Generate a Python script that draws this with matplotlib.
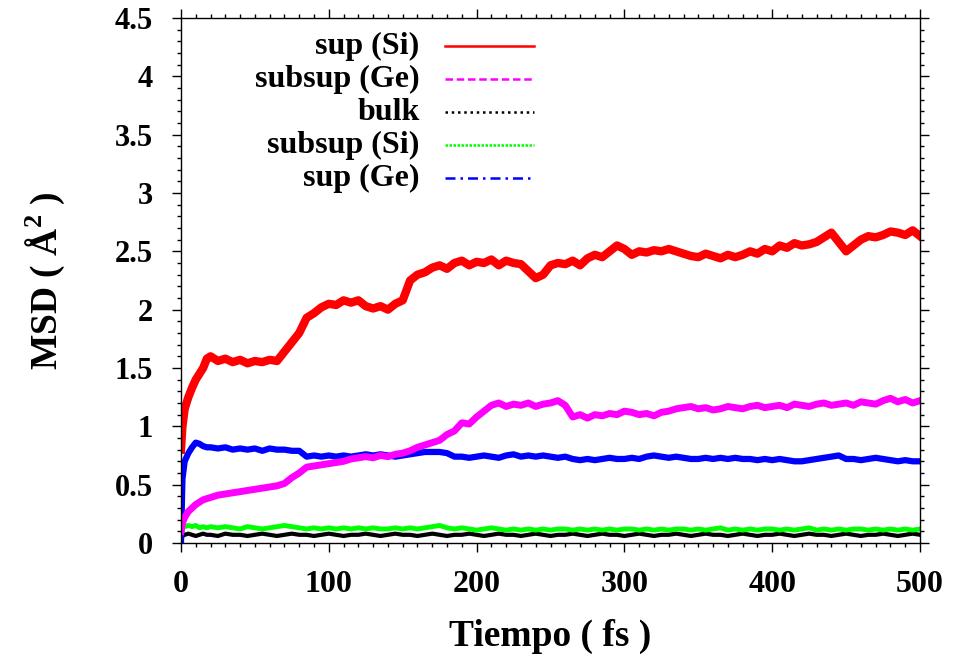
import numpy as np
import matplotlib
matplotlib.use("Agg")
import matplotlib.pyplot as plt
from matplotlib.ticker import MultipleLocator

plt.rcParams['font.family'] = ['Liberation Serif', 'DejaVu Serif']
plt.rcParams['font.weight'] = 'bold'
plt.rcParams['mathtext.fontset'] = 'custom'
plt.rcParams['mathtext.rm'] = 'Liberation Serif:bold'
plt.rcParams['mathtext.bf'] = 'Liberation Serif:bold'

# time axis (fs): finer sampling during the initial rise
t_fs = np.concatenate([[0, 1, 2.5, 5, 7.5, 10, 12.5, 15, 17.5, 20],
                       np.arange(25, 501, 5)])

sup_si = [0.80, 1.00, 1.15, 1.25, 1.33, 1.40, 1.45, 1.50, 1.58, 1.60,
          1.56, 1.58, 1.55, 1.57, 1.54, 1.56, 1.55, 1.57, 1.56, 1.64,
          1.72, 1.80, 1.93, 1.97, 2.02, 2.05, 2.04, 2.08, 2.06, 2.08,
          2.03, 2.01, 2.03, 2.00, 2.05, 2.08, 2.25, 2.30, 2.32, 2.36,
          2.38, 2.35, 2.40, 2.42, 2.38, 2.41, 2.40, 2.43, 2.38, 2.42,
          2.40, 2.39, 2.33, 2.27, 2.30, 2.38, 2.40, 2.39, 2.42, 2.38,
          2.44, 2.47, 2.45, 2.50, 2.55, 2.52, 2.47, 2.50, 2.49, 2.51,
          2.50, 2.52, 2.50, 2.48, 2.46, 2.45, 2.48, 2.46, 2.44, 2.47,
          2.45, 2.47, 2.50, 2.48, 2.52, 2.50, 2.55, 2.53, 2.57, 2.55,
          2.56, 2.58, 2.62, 2.66, 2.58, 2.50, 2.55, 2.60, 2.63, 2.62,
          2.64, 2.67, 2.66, 2.64, 2.68, 2.63]

subsup_ge = [0.10, 0.17, 0.22, 0.27, 0.30, 0.33, 0.35, 0.37, 0.38, 0.39,
             0.41, 0.42, 0.43, 0.44, 0.45, 0.46, 0.47, 0.48, 0.49, 0.51,
             0.56, 0.60, 0.65, 0.66, 0.67, 0.68, 0.69, 0.70, 0.72, 0.73,
             0.74, 0.73, 0.75, 0.74, 0.76, 0.77, 0.79, 0.82, 0.84, 0.86,
             0.88, 0.93, 0.96, 1.03, 1.02, 1.08, 1.13, 1.18, 1.20, 1.17,
             1.19, 1.18, 1.20, 1.17, 1.19, 1.20, 1.22, 1.18, 1.08, 1.10,
             1.07, 1.10, 1.09, 1.11, 1.10, 1.13, 1.12, 1.10, 1.11, 1.09,
             1.12, 1.13, 1.15, 1.16, 1.17, 1.15, 1.16, 1.14, 1.15, 1.17,
             1.16, 1.15, 1.17, 1.18, 1.16, 1.17, 1.18, 1.16, 1.19, 1.18,
             1.17, 1.19, 1.20, 1.18, 1.19, 1.20, 1.18, 1.21, 1.20, 1.19,
             1.22, 1.24, 1.21, 1.23, 1.20, 1.22]

bulk = [0.00, 0.06, 0.07, 0.08, 0.07, 0.06, 0.07, 0.08, 0.07, 0.07,
        0.06, 0.08, 0.07, 0.07, 0.06, 0.07, 0.08, 0.07, 0.06, 0.07,
        0.08, 0.07, 0.07, 0.06, 0.07, 0.08, 0.07, 0.06, 0.07, 0.07,
        0.08, 0.07, 0.06, 0.07, 0.08, 0.07, 0.07, 0.06, 0.07, 0.08,
        0.07, 0.06, 0.07, 0.07, 0.08, 0.07, 0.06, 0.07, 0.08, 0.07,
        0.07, 0.06, 0.07, 0.08, 0.07, 0.06, 0.07, 0.07, 0.08, 0.07,
        0.06, 0.07, 0.08, 0.07, 0.07, 0.06, 0.07, 0.08, 0.07, 0.06,
        0.07, 0.07, 0.08, 0.07, 0.06, 0.07, 0.08, 0.07, 0.07, 0.06,
        0.07, 0.08, 0.07, 0.06, 0.07, 0.07, 0.08, 0.07, 0.06, 0.07,
        0.08, 0.07, 0.07, 0.06, 0.07, 0.08, 0.07, 0.06, 0.07, 0.07,
        0.08, 0.07, 0.06, 0.07, 0.08, 0.07]

subsup_si = [0.05, 0.13, 0.14, 0.15, 0.14, 0.15, 0.13, 0.14, 0.13, 0.14,
             0.13, 0.14, 0.13, 0.12, 0.14, 0.13, 0.12, 0.13, 0.14, 0.15,
             0.14, 0.13, 0.12, 0.13, 0.12, 0.13, 0.12, 0.13, 0.12, 0.13,
             0.12, 0.13, 0.12, 0.12, 0.13, 0.12, 0.13, 0.12, 0.13, 0.14,
             0.15, 0.13, 0.12, 0.13, 0.12, 0.11, 0.12, 0.13, 0.12, 0.11,
             0.12, 0.11, 0.12, 0.11, 0.12, 0.11, 0.12, 0.12, 0.11, 0.12,
             0.11, 0.12, 0.11, 0.12, 0.11, 0.12, 0.12, 0.11, 0.12, 0.11,
             0.12, 0.11, 0.12, 0.12, 0.11, 0.12, 0.11, 0.12, 0.13, 0.11,
             0.12, 0.11, 0.12, 0.11, 0.12, 0.12, 0.11, 0.12, 0.11, 0.12,
             0.13, 0.11, 0.12, 0.11, 0.12, 0.11, 0.12, 0.12, 0.11, 0.12,
             0.11, 0.12, 0.11, 0.12, 0.11, 0.12]

sup_ge = [0.00, 0.55, 0.70, 0.77, 0.82, 0.86, 0.85, 0.83, 0.82, 0.82,
          0.81, 0.82, 0.80, 0.81, 0.80, 0.81, 0.79, 0.81, 0.80, 0.80,
          0.79, 0.79, 0.74, 0.75, 0.74, 0.75, 0.74, 0.75, 0.74, 0.75,
          0.76, 0.75, 0.76, 0.75, 0.74, 0.75, 0.76, 0.77, 0.78, 0.78,
          0.78, 0.77, 0.74, 0.74, 0.73, 0.74, 0.75, 0.74, 0.73, 0.75,
          0.76, 0.74, 0.75, 0.74, 0.75, 0.74, 0.73, 0.74, 0.72, 0.71,
          0.72, 0.71, 0.72, 0.73, 0.72, 0.72, 0.73, 0.72, 0.74, 0.75,
          0.74, 0.73, 0.74, 0.73, 0.72, 0.72, 0.73, 0.72, 0.73, 0.72,
          0.73, 0.72, 0.72, 0.71, 0.72, 0.71, 0.72, 0.71, 0.70, 0.70,
          0.71, 0.72, 0.73, 0.74, 0.75, 0.72, 0.72, 0.71, 0.72, 0.73,
          0.72, 0.71, 0.70, 0.71, 0.70, 0.70]

labels = ['sup (Si)', 'subsup (Ge)', 'bulk', 'subsup (Si)', 'sup (Ge)']
series = [sup_si, subsup_ge, bulk, subsup_si, sup_ge]
colors = ['#ff0000', '#ff00ff', '#000000', '#00ff00', '#0000ff']
widths = [6.0, 5.0, 3.0, 3.5, 4.5]
key_styles = ['-', (0, (3, 1.5)), (0, (1, 1.5)), (0, (1, 0.6)), (0, (4, 2, 1, 2))]
draw_order = [2, 3, 4, 1, 0]

fig = plt.figure(figsize=(9.54, 6.62), dpi=100)
ax = fig.add_axes([0.1897, 0.1798, 0.7747, 0.7930])

for i in draw_order:
    ax.plot(t_fs, series[i], color=colors[i], lw=widths[i],
            solid_joinstyle='round', zorder=2)

ax.set_xlim(0, 500)
ax.set_ylim(0, 4.5)
ax.xaxis.set_major_locator(MultipleLocator(100))
ax.xaxis.set_minor_locator(MultipleLocator(10))
ax.yaxis.set_major_locator(MultipleLocator(0.5))
ax.yaxis.set_minor_locator(MultipleLocator(0.1))
ax.yaxis.set_major_formatter(plt.FuncFormatter(lambda v, p: f"{v:g}"))

ax.tick_params(which='both', direction='out', top=True, right=True,
               width=1.0, colors='black')
ax.tick_params(which='major', length=6.5)
ax.tick_params(which='minor', length=3.2)
ax.tick_params(axis='x', which='major', labelsize=23, pad=13)
ax.tick_params(axis='y', which='major', labelsize=22, pad=14)
for s in ax.spines.values():
    s.set_linewidth(1.0)

ax.set_xlabel('Tiempo ( fs )', fontsize=27, fontweight='bold', labelpad=14)
ax.set_ylabel(r'MSD ( Å$^{2}$ )', fontsize=27, fontweight='bold', labelpad=34)

# key: right-aligned labels followed by a short sample line
key_x_text = 0.323
key_x0, key_x1 = 0.357, 0.478
key_y0, key_dy = 0.946, 0.0628
for k in range(len(labels)):
    yk = key_y0 - k * key_dy
    ax.text(key_x_text, yk, labels[k], transform=ax.transAxes,
            ha='right', va='center', fontsize=23, fontweight='bold')
    ax.plot([key_x0, key_x1], [yk, yk], transform=ax.transAxes,
            color=colors[k], lw=1.8, linestyle=key_styles[k], clip_on=False)

fig.savefig('out.png', dpi=100)
